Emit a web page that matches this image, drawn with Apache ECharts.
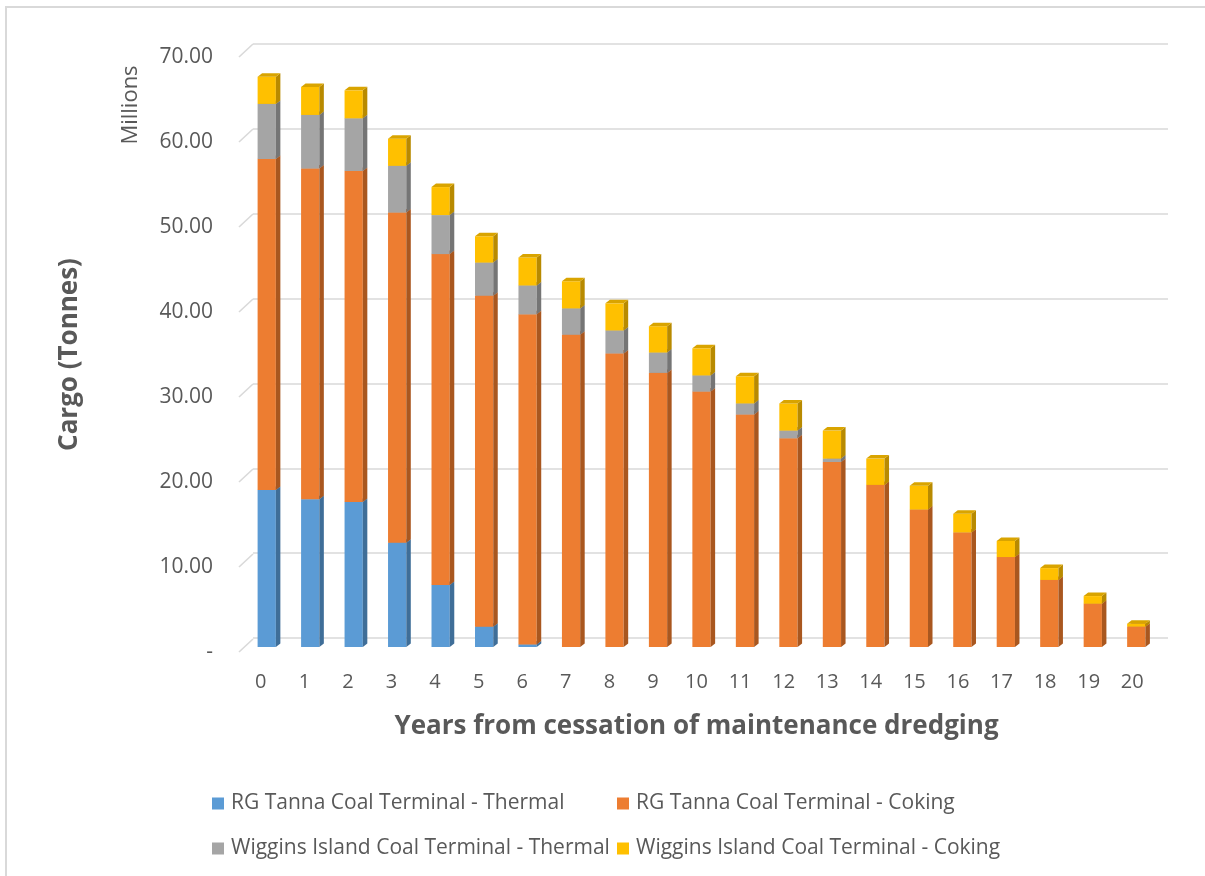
<!DOCTYPE html>
<html>
<head>
<meta charset="utf-8">
<script src="https://cdn.jsdelivr.net/npm/echarts@6/dist/echarts.min.js"></script>
<style>
  html, body { margin: 0; padding: 0; background: #ffffff; }
  #chart { width: 1205px; height: 876px; }
</style>
</head>
<body>
<div id="chart"></div>
<script>
// Years since maintenance dredging stopped
const years = ['0','1','2','3','4','5','6','7','8','9','10','11','12','13','14','15','16','17','18','19','20'];

// Cargo by terminal and coal type (millions of tonnes)
const rgTannaThermal  = [18.5, 17.4, 17.1, 12.3, 7.3, 2.4, 0.3, 0, 0, 0, 0, 0, 0, 0, 0, 0, 0, 0, 0, 0, 0];
const rgTannaCoking   = [39.0, 39.0, 39.0, 38.9, 39.0, 39.0, 38.9, 36.8, 34.6, 32.3, 30.1, 27.4, 24.6, 21.8, 19.1, 16.2, 13.5, 10.6, 7.9, 5.1, 2.4];
const wigginsThermal  = [6.5, 6.3, 6.2, 5.5, 4.6, 3.9, 3.4, 3.1, 2.7, 2.4, 1.9, 1.3, 0.9, 0.4, 0, 0, 0, 0, 0, 0, 0];
const wigginsCoking   = [3.2, 3.3, 3.3, 3.2, 3.3, 3.1, 3.3, 3.2, 3.2, 3.1, 3.2, 3.2, 3.2, 3.3, 3.1, 2.8, 2.2, 1.9, 1.4, 0.9, 0.35];

// Value axis ticks
const yTicks = [0, 10, 20, 30, 40, 50, 60, 70];

const seriesNames = [
  'RG Tanna Coal Terminal - Thermal',
  'RG Tanna Coal Terminal - Coking',
  'Wiggins Island Coal Terminal - Thermal',
  'Wiggins Island Coal Terminal - Coking'
];
const seriesValues = [rgTannaThermal, rgTannaCoking, wigginsThermal, wigginsCoking];

// front face, side face, top face colours
const palette = [
  { front: '#5B9BD5', side: '#3F6E98', top: '#4A84B8' },
  { front: '#ED7D31', side: '#A9571F', top: '#C9682A' },
  { front: '#A5A5A5', side: '#757575', top: '#8C8C8C' },
  { front: '#FFC000', side: '#B88A00', top: '#D9A400' }
];

const FONT = '"Open Sans", Lato, sans-serif';
const TEXT = '#595959';
const DEPTH_X = 4.5, DEPTH_Y = 3.5;

// Stacked data rows: [category index, base, value]
function stackedRows(k) {
  return years.map((_, i) => {
    let base = 0;
    for (let j = 0; j < k; j++) base += seriesValues[j][i];
    return [i, base, seriesValues[k][i]];
  });
}

function barRenderer(k) {
  const c = palette[k];
  return function (params, api) {
    const val = api.value(2);
    if (!(val > 0)) return null;
    const i = api.value(0), base = api.value(1);
    const p0 = api.coord([i, base]);
    const p1 = api.coord([i, base + val]);
    const bw = api.size([1, 0])[0] * 0.42;
    const x1 = p0[0] - bw / 2, x2 = p0[0] + bw / 2;
    const yb = p0[1], yt = p1[1];
    return {
      type: 'group',
      children: [
        { type: 'rect', shape: { x: x1, y: yt, width: bw, height: yb - yt }, style: { fill: c.front } },
        { type: 'polygon', shape: { points: [[x2, yt], [x2 + DEPTH_X, yt - DEPTH_Y], [x2 + DEPTH_X, yb - DEPTH_Y], [x2, yb]] }, style: { fill: c.side } },
        { type: 'polygon', shape: { points: [[x1, yt], [x1 + DEPTH_X, yt - DEPTH_Y], [x2 + DEPTH_X, yt - DEPTH_Y], [x2, yt]] }, style: { fill: c.top } }
      ]
    };
  };
}

const barSeries = seriesNames.map((name, k) => ({
  name: name,
  type: 'custom',
  xAxisIndex: 2,
  yAxisIndex: 2,
  itemStyle: { color: palette[k].front },
  data: stackedRows(k),
  encode: { x: 0, y: [1, 2] },
  renderItem: barRenderer(k),
  z: 10 + k
}));

// Short diagonal stubs joining the front floor edge to the back wall gridlines
const stubSeries = {
  type: 'custom',
  xAxisIndex: 1,
  yAxisIndex: 1,
  silent: true,
  data: yTicks.map(v => [0, v]),
  encode: { x: 0, y: 1 },
  renderItem: function (params, api) {
    const y = api.coord([0, api.value(1)])[1];
    const x = params.coordSys.x;
    return {
      type: 'line',
      shape: { x1: x, y1: y, x2: x + 14, y2: y - 13 },
      style: { stroke: '#D9D9D9', lineWidth: 1.6 }
    };
  },
  z: 1
};

const legendPos = [
  { left: 212, top: 793 },
  { left: 617, top: 793 },
  { left: 212, top: 838 },
  { left: 617, top: 838 }
];

const chart = echarts.init(document.getElementById('chart'), null, { renderer: 'canvas' });

chart.setOption({
  backgroundColor: '#ffffff',
  animation: false,
  textStyle: { fontFamily: FONT },
  grid: [
    // back wall
    { left: 253, right: 37, top: 44, bottom: 238 },
    // front floor edge (labels)
    { left: 239, right: 51, top: 57, bottom: 224 },
    // bars
    { left: 245, right: 47, top: 53, bottom: 229 }
  ],
  xAxis: [
    { gridIndex: 0, type: 'category', data: years, show: false },
    {
      gridIndex: 1, type: 'category', data: years,
      axisLine: { show: false }, axisTick: { show: false },
      axisLabel: { color: TEXT, fontSize: 20, margin: 20, fontFamily: FONT },
      name: 'Years from cessation of maintenance dredging',
      nameLocation: 'middle', nameGap: 62,
      nameTextStyle: { color: TEXT, fontSize: 26, fontWeight: 'bold', fontFamily: FONT }
    },
    { gridIndex: 2, type: 'category', data: years, show: false }
  ],
  yAxis: [
    {
      gridIndex: 0, type: 'value', min: 0, max: 70, interval: 10,
      axisLine: { show: false }, axisTick: { show: false }, axisLabel: { show: false },
      splitLine: { show: true, lineStyle: { color: '#D9D9D9', width: 1.6 } }
    },
    {
      gridIndex: 1, type: 'value', min: 0, max: 70, interval: 10,
      axisLine: { show: false }, axisTick: { show: false }, splitLine: { show: false },
      axisLabel: {
        color: TEXT, fontSize: 21, margin: 26, fontFamily: FONT, padding: [5, 0, 0, 0],
        formatter: v => (v === 0 ? '-' : v.toFixed(2))
      },
      name: 'Cargo (Tonnes)', nameLocation: 'middle', nameGap: 156,
      nameTextStyle: { color: TEXT, fontSize: 26, fontWeight: 'bold', fontFamily: FONT }
    },
    { gridIndex: 2, type: 'value', min: 0, max: 70, interval: 10, show: false, splitLine: { show: false } }
  ],
  legend: seriesNames.map((name, k) => ({
    data: [{ name: name, icon: 'rect' }],
    left: legendPos[k].left, top: legendPos[k].top,
    itemWidth: 12, itemHeight: 12, itemGap: 0, padding: 0,
    selectedMode: false,
    textStyle: { color: TEXT, fontSize: 21, fontFamily: FONT, padding: [0, 0, 0, 2] }
  })),
  graphic: [
    {
      type: 'rect', silent: true, z: -1,
      shape: { x: 6, y: 7, width: 1300, height: 1000 },
      style: { fill: 'none', stroke: '#D9D9D9', lineWidth: 2 }
    },
    {
      type: 'text', silent: true,
      x: 131, y: 105, rotation: Math.PI / 2,
      style: {
        text: 'Millions', fill: TEXT, font: '22px ' + FONT,
        textAlign: 'center', textVerticalAlign: 'middle'
      }
    }
  ],
  series: [stubSeries].concat(barSeries)
});
</script>
</body>
</html>
